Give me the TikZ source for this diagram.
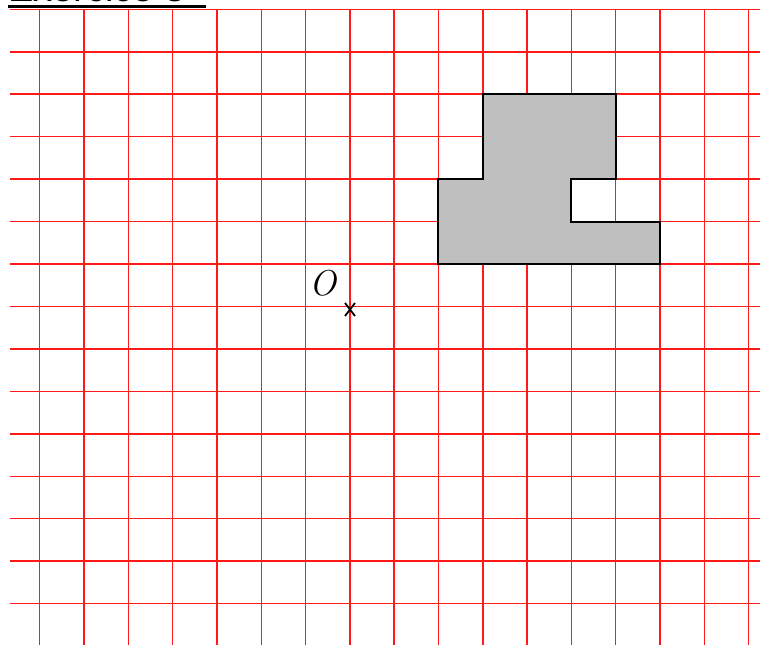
\documentclass[tikz,border=0pt]{standalone}
\usepackage{fontspec}
\setsansfont{Liberation Sans}
\begin{document}
\begin{tikzpicture}[x=1pt,y=-1pt,
  gridline/.style={red!90, line width=1.5pt},
  figshape/.style={draw=black, fill=black!25, line width=2pt, line join=miter},
  crossmark/.style={black, line width=1.8pt},
  labeltext/.style={font=\fontsize{36}{40}\selectfont\itshape, inner sep=0pt}]
\useasboundingbox (0,0) rectangle (760,645);
% title (mostly cut off at the top)
\node[anchor=base west, inner sep=0pt, font=\sffamily\fontsize{38}{40}\selectfont] (title) at (8,1.2) {Exercice 3};
\draw[black, line width=3pt] (8,6.5) -- (206,6.5);
% grid
\foreach \i in {0,...,16} {
  \draw[gridline] ({39.7+44.31*\i},9.3) -- ({39.7+44.31*\i},645);
}
\foreach \j in {0,...,14} {
  \draw[gridline] (10,{9.3+42.45*\j}) -- (760,{9.3+42.45*\j});
}
% shape
\def\gx#1{39.7+44.31*#1}
\def\gy#1{9.3+42.45*#1}
\draw[figshape] ({\gx{10}},{\gy{2}}) -- ({\gx{13}},{\gy{2}}) -- ({\gx{13}},{\gy{4}}) -- ({\gx{12}},{\gy{4}})
  -- ({\gx{12}},{\gy{5}}) -- ({\gx{14}},{\gy{5}}) -- ({\gx{14}},{\gy{6}}) -- ({\gx{9}},{\gy{6}})
  -- ({\gx{9}},{\gy{4}}) -- ({\gx{10}},{\gy{4}}) -- cycle;
% point O
\coordinate (O) at (350,309.5);
\draw[crossmark] ([shift={(-5,-6.5)}]O) -- ([shift={(5,6.5)}]O);
\draw[crossmark] ([shift={(-5,6.5)}]O) -- ([shift={(5,-6.5)}]O);
\node[labeltext] (Olabel) at (323,283) {O};
\end{tikzpicture}
\end{document}
